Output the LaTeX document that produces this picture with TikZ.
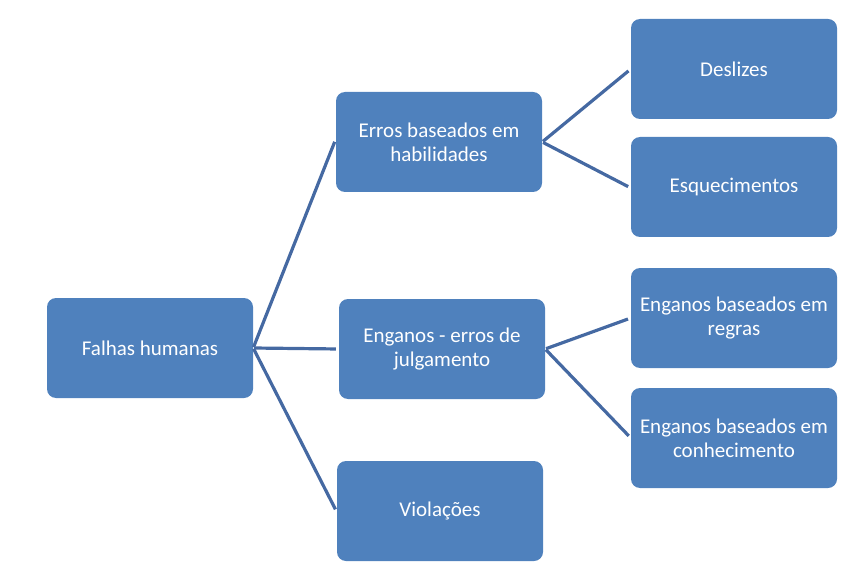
\documentclass[tikz,border=0pt]{standalone}
\usepackage{fontspec}
\setmainfont{Carlito}
\definecolor{boxblue}{HTML}{4F81BD}
\definecolor{lineblue}{HTML}{4569A2}
\begin{document}
\begin{tikzpicture}[x=1pt,y=-1pt,
  box/.style={fill=boxblue,rounded corners=9pt,minimum width=206pt,minimum height=100pt,
    text=white,align=center,font=\fontsize{21}{24}\selectfont,inner sep=1pt},
  conn/.style={draw=lineblue,line width=3.2pt,shorten >=3pt,shorten <=1pt}]
\useasboundingbox (0,0) rectangle (856,577);
\node[box] (falhas) at (150,348) {Falhas humanas};
\node[box] (erros) at (439,142) {Erros baseados em\\habilidades};
\node[box] (enganos) at (442,349) {Enganos - erros de\\julgamento};
\node[box] (viol) at (440,511) {Violações};
\node[box] (desl) at (734,69) {Deslizes};
\node[box] (esq) at (734,187) {Esquecimentos};
\node[box] (regras) at (734,318) {Enganos baseados em\\regras};
\node[box] (conh) at (734,438) {Enganos baseados em\\conhecimento};
\coordinate (f0) at (falhas.east);
\coordinate (e0) at (erros.east);
\coordinate (g0) at (enganos.east);
\draw[conn] (f0) -- ([yshift=3pt]erros.west);
\draw[conn] (f0) -- (enganos.west);
\draw[conn] (f0) -- ([yshift=-1pt]viol.west);
\draw[conn] (e0) -- (desl.west);
\draw[conn] (e0) -- ([yshift=-1pt]esq.west);
\draw[conn] (g0) -- (regras.west);
\draw[conn] (g0) -- (conh.west);
\end{tikzpicture}
\end{document}
